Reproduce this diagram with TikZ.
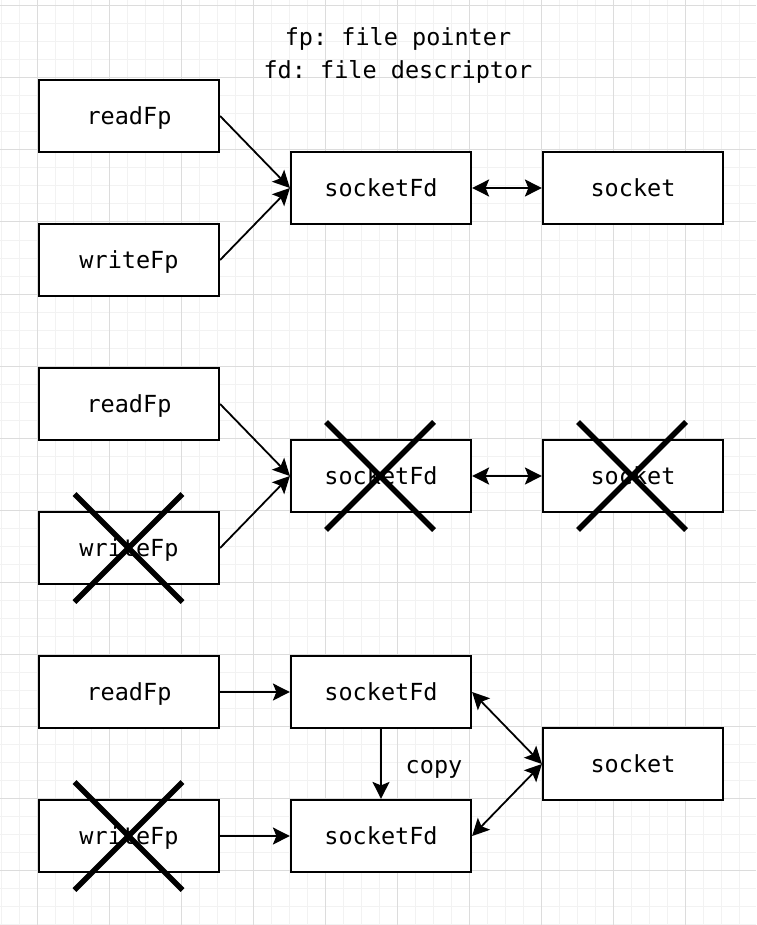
\documentclass[tikz,border=0pt]{standalone}
\usepackage{fontspec}
\setmonofont{DejaVu Sans Mono}
\usetikzlibrary{arrows.meta,shapes.misc}
\definecolor{gridminor}{HTML}{F2F2F2}
\definecolor{gridmajor}{HTML}{DCDCDC}
\tikzset{
  txtfont/.style={font=\ttfamily\fontsize{23.5}{28}\selectfont, text height=16.5pt, text depth=0pt},
  box/.style={draw, txtfont, line width=2.2pt, minimum width=180pt, minimum height=72pt, inner sep=0pt, fill=white},
  lbl/.style={txtfont, inner sep=0pt},
  arr/.style={line width=1.8pt, -{Stealth[length=17pt,width=17pt,inset=3.5pt]}},
  darr/.style={line width=1.8pt, {Stealth[length=17pt,width=17pt,inset=3.5pt]}-{Stealth[length=17pt,width=17pt,inset=3.5pt]}},
  xmark/.style={cross out, draw, line width=5.5pt, minimum size=108pt, inner sep=0pt, outer sep=0pt}
}
\begin{document}
\begin{tikzpicture}[x=1pt,y=-1pt]
\useasboundingbox[fill=white] (0,0) rectangle (756,925);
% grid
\foreach \i in {0,...,42} {\draw[gridminor, line width=1pt] (1.3+18*\i,0) -- (1.3+18*\i,925);}
\foreach \i in {0,...,51} {\draw[gridminor, line width=1pt] (0,6+18*\i) -- (756,6+18*\i);}
\foreach \i in {0,...,10} {\draw[gridmajor, line width=1pt] (37.3+72*\i,0) -- (37.3+72*\i,925);}
\foreach \i in {0,...,12} {\draw[gridmajor, line width=1pt] (0,6+72*\i) -- (756,6+72*\i);}

% title
\node[lbl] (t1) at (398,37) {fp: file pointer};
\node[lbl] (t2) at (398,70) {fd: file descriptor};

% row 1
\node[box] (r1) at (129,116) {readFp};
\node[box] (w1) at (129,260) {writeFp};
\node[box] (s1) at (381,188) {socketFd};
\node[box] (k1) at (633,188) {socket};
\draw[arr] (r1.east) -- (s1.west);
\draw[arr] (w1.east) -- (s1.west);
\draw[darr] (s1.east) -- (k1.west);

% row 2
\node[box] (r2) at (129,404) {readFp};
\node[box] (w2) at (129,548) {writeFp};
\node[box] (s2) at (381,476) {socketFd};
\node[box] (k2) at (633,476) {socket};
\draw[arr] (r2.east) -- (s2.west);
\draw[arr] (w2.east) -- (s2.west);
\draw[darr] (s2.east) -- (k2.west);
\node[xmark] (xw2) at (128.5,548) {};
\node[xmark] (xs2) at (380,476) {};
\node[xmark] (xk2) at (632,476) {};

% row 3
\node[box] (r3) at (129,692) {readFp};
\node[box] (w3) at (129,836) {writeFp};
\node[box] (s3) at (381,692) {socketFd};
\node[box] (t3) at (381,836) {socketFd};
\node[box] (k3) at (633,764) {socket};
\draw[arr] (r3.east) -- (s3.west);
\draw[arr] (w3.east) -- (t3.west);
\draw[arr] (s3.south) -- (t3.north);
\node[lbl] (cp) at (434,765) {copy};
\draw[darr] (s3.east) -- (k3.west);
\draw[darr] (t3.east) -- (k3.west);
\node[xmark] (xw3) at (128.5,836) {};
\end{tikzpicture}
\end{document}
